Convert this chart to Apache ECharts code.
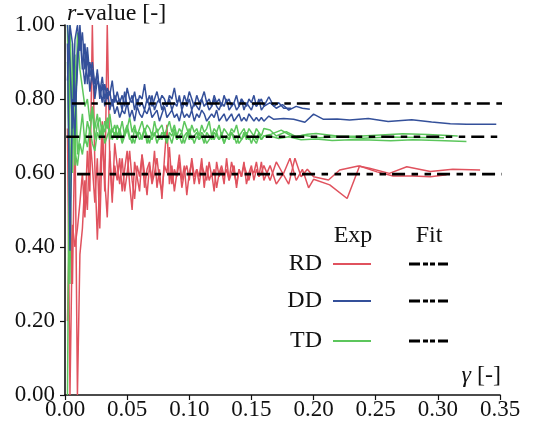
<!DOCTYPE html>
<html>
<head>
<meta charset="utf-8">
<script src="https://cdn.jsdelivr.net/npm/echarts@6/dist/echarts.min.js"></script>
<style>
  html, body { margin: 0; padding: 0; background: #fff; }
  #chart { width: 535px; height: 432px; }
</style>
</head>
<body>
<div id="chart"></div>
<script>
// Shear strain grid shared by the densely sampled part of every run
const gammaFine = [
  0.002, 0.004, 0.006, 0.008, 0.010, 0.012, 0.014, 0.016, 0.018, 0.020,
  0.022, 0.024, 0.026, 0.028, 0.030, 0.032, 0.034, 0.036, 0.038, 0.040,
  0.042, 0.044, 0.046, 0.048, 0.050, 0.052, 0.054, 0.056, 0.058, 0.060,
  0.062, 0.064, 0.066, 0.068, 0.070, 0.072, 0.074, 0.076, 0.078, 0.080,
  0.082, 0.084, 0.086, 0.088, 0.090, 0.092, 0.094, 0.096, 0.098, 0.100,
  0.102, 0.104, 0.106, 0.108, 0.110, 0.112, 0.114, 0.116, 0.118, 0.120,
  0.122, 0.124, 0.126, 0.128, 0.130, 0.132, 0.134, 0.136, 0.138, 0.140,
  0.142, 0.144, 0.146, 0.148, 0.150, 0.152, 0.154, 0.156, 0.158, 0.160
];

// RD runs
const rd1Fine = [
  0.72, 0.00, 0.46, 0.40, 0.45, 0.52, 0.60, 0.48, 0.66, 0.55, 1.00, 0.62, 0.42, 0.58, 0.74, 0.55, 1.00, 0.64, 0.52, 0.68,
  0.62, 0.57, 0.64, 0.55, 0.60, 0.66, 0.58, 0.53, 0.62, 0.59, 0.65, 0.56, 0.61, 0.63, 0.57, 0.60, 0.64, 0.58, 0.55, 0.62,
  0.60, 0.67, 0.57, 0.61, 0.59, 0.63, 0.56, 0.60, 0.62, 0.58, 0.64, 0.59, 0.61, 0.57, 0.62, 0.60, 0.58, 0.63, 0.59, 0.61,
  0.56, 0.60, 0.62, 0.59, 0.61, 0.58, 0.63, 0.60, 0.57, 0.61, 0.59, 0.62, 0.60, 0.58, 0.61, 0.60, 0.63, 0.59, 0.60, 0.62
];
const rd1TailX = [0.165, 0.170, 0.175, 0.180, 0.185, 0.190, 0.195, 0.200, 0.212, 0.221, 0.236, 0.245, 0.261, 0.275, 0.294, 0.312, 0.334];
const rd1TailY = [0.58, 0.63, 0.60, 0.57, 0.64, 0.59, 0.61, 0.590, 0.581, 0.608, 0.619, 0.613, 0.599, 0.617, 0.604, 0.610, 0.608];

const rd2Fine = [
  0.20, 0.55, 0.30, 0.75, 0.00, 0.38, 0.45, 0.58, 0.50, 0.70, 0.62, 0.52, 0.64, 0.45, 0.70, 0.58, 0.48, 0.66, 0.54, 0.62,
  0.58, 0.64, 0.55, 0.61, 0.66, 0.57, 0.50, 0.63, 0.59, 0.55, 0.65, 0.60, 0.54, 0.62, 0.58, 0.66, 0.56, 0.61, 0.53, 0.64,
  0.73, 0.57, 0.62, 0.55, 0.60, 0.65, 0.58, 0.62, 0.54, 0.60, 0.63, 0.57, 0.61, 0.59, 0.64, 0.56, 0.62, 0.58, 0.60, 0.55,
  0.63, 0.59, 0.61, 0.57, 0.64, 0.58, 0.60, 0.62, 0.56, 0.61, 0.59, 0.63, 0.57, 0.60, 0.62, 0.58, 0.61, 0.59, 0.63, 0.58
];
const rd2TailX = [0.165, 0.170, 0.176, 0.181, 0.186, 0.191, 0.196, 0.200, 0.213, 0.227, 0.237, 0.251, 0.264, 0.280, 0.294, 0.307];
const rd2TailY = [0.62, 0.57, 0.60, 0.64, 0.58, 0.61, 0.56, 0.583, 0.568, 0.531, 0.619, 0.603, 0.592, 0.592, 0.590, 0.595];

// DD runs
const dd1Fine = [
  0.95, 0.39, 0.80, 0.70, 0.92, 0.98, 0.88, 0.95, 0.84, 0.90, 0.86, 0.82, 0.88, 0.80, 0.84, 0.78, 0.82, 0.77, 0.80, 0.76,
  0.78, 0.75, 0.77, 0.76, 0.79, 0.75, 0.77, 0.74, 0.78, 0.76, 0.75, 0.77, 0.76, 0.78, 0.75, 0.76, 0.77, 0.74, 0.76, 0.78,
  0.75, 0.76, 0.77, 0.75, 0.76, 0.74, 0.77, 0.75, 0.76, 0.75, 0.77, 0.74, 0.76, 0.75, 0.77, 0.76, 0.74, 0.75, 0.76, 0.75,
  0.77, 0.74, 0.75, 0.76, 0.74, 0.75, 0.76, 0.74, 0.75, 0.76, 0.74, 0.75, 0.74, 0.76, 0.75, 0.74, 0.75, 0.74, 0.75, 0.74
];
const dd1TailX = [0.164, 0.168, 0.176, 0.184, 0.193, 0.200, 0.208, 0.219, 0.229, 0.244, 0.260, 0.279, 0.295, 0.310, 0.323, 0.347];
const dd1TailY = [0.754, 0.745, 0.747, 0.745, 0.737, 0.759, 0.745, 0.746, 0.743, 0.747, 0.739, 0.744, 0.738, 0.733, 0.732, 0.732];

const dd2Fine = [
  1.00, 0.90, 0.72, 0.96, 1.00, 0.93, 0.98, 0.88, 0.94, 0.86, 0.90, 0.84, 0.87, 0.82, 0.86, 0.80, 0.83, 0.81, 0.85, 0.79,
  0.82, 0.79, 0.81, 0.78, 0.83, 0.80, 0.79, 0.82, 0.78, 0.81, 0.80, 0.84, 0.79, 0.81, 0.78, 0.80, 0.82, 0.79, 0.81, 0.80,
  0.78, 0.81, 0.80, 0.83, 0.79, 0.80, 0.78, 0.81, 0.79, 0.82, 0.80, 0.78, 0.81, 0.79, 0.80, 0.82, 0.79, 0.80, 0.78, 0.81,
  0.79, 0.80, 0.78, 0.81, 0.79, 0.80, 0.78, 0.79, 0.81, 0.78, 0.80, 0.79, 0.78, 0.80, 0.79, 0.81, 0.78, 0.79, 0.80, 0.78
];
const dd2TailX = [0.165, 0.170, 0.175, 0.180, 0.186, 0.191, 0.197];
const dd2TailY = [0.790, 0.775, 0.785, 0.770, 0.780, 0.775, 0.772];

const dd3Fine = [
  0.85, 1.00, 0.95, 0.78, 0.88, 1.00, 0.90, 0.84, 0.92, 0.82, 0.88, 0.80, 0.85, 0.83, 0.79, 0.84, 0.80, 0.82, 0.78, 0.81,
  0.79, 0.80, 0.77, 0.82, 0.78, 0.79, 0.81, 0.77, 0.80, 0.78, 0.79, 0.77, 0.80, 0.78, 0.81, 0.77, 0.79, 0.80, 0.77, 0.79,
  0.78, 0.80, 0.77, 0.79, 0.78, 0.81, 0.77, 0.79, 0.78, 0.80, 0.77, 0.79, 0.78, 0.77, 0.80, 0.78, 0.79, 0.77, 0.78, 0.80,
  0.78, 0.77, 0.79, 0.78, 0.80, 0.77, 0.78, 0.79, 0.77, 0.78, 0.80, 0.77, 0.79, 0.78, 0.77, 0.79, 0.78, 0.80, 0.77, 0.78
];
const dd3TailX = [0.164, 0.168, 0.172, 0.176, 0.182];
const dd3TailY = [0.806, 0.780, 0.790, 0.775, 0.775];

// TD runs
const td1Fine = [
  0.00, 1.00, 0.60, 0.92, 0.65, 0.70, 0.76, 0.68, 0.74, 0.71, 0.77, 0.69, 0.73, 0.75, 0.70, 0.74, 0.72, 0.76, 0.71, 0.73,
  0.70, 0.72, 0.69, 0.71, 0.73, 0.70, 0.68, 0.72, 0.70, 0.71, 0.69, 0.72, 0.70, 0.68, 0.71, 0.70, 0.72, 0.69, 0.71, 0.70,
  0.68, 0.71, 0.70, 0.72, 0.69, 0.70, 0.71, 0.68, 0.70, 0.72, 0.69, 0.70, 0.71, 0.69, 0.70, 0.68, 0.71, 0.70, 0.69, 0.71,
  0.70, 0.69, 0.71, 0.68, 0.70, 0.69, 0.71, 0.70, 0.68, 0.70, 0.69, 0.71, 0.69, 0.70, 0.68, 0.70, 0.69, 0.71, 0.69, 0.70
];
const td1TailX = [0.165, 0.172, 0.180, 0.190, 0.202, 0.215, 0.230, 0.245, 0.262, 0.280, 0.300, 0.323];
const td1TailY = [0.700, 0.693, 0.698, 0.690, 0.692, 0.688, 0.690, 0.689, 0.687, 0.690, 0.688, 0.685];

const td2Fine = [
  1.00, 0.30, 0.95, 0.62, 0.98, 0.88, 0.83, 0.78, 0.80, 0.74, 0.78, 0.72, 0.76, 0.70, 0.73, 0.71, 0.75, 0.69, 0.72, 0.70,
  0.73, 0.71, 0.74, 0.70, 0.72, 0.75, 0.71, 0.73, 0.70, 0.72, 0.74, 0.71, 0.73, 0.72, 0.70, 0.74, 0.71, 0.72, 0.73, 0.70,
  0.72, 0.74, 0.71, 0.73, 0.70, 0.72, 0.71, 0.74, 0.72, 0.70, 0.73, 0.71, 0.72, 0.70, 0.73, 0.71, 0.72, 0.74, 0.70, 0.72,
  0.71, 0.73, 0.70, 0.72, 0.71, 0.70, 0.72, 0.71, 0.73, 0.70, 0.71, 0.72, 0.70, 0.72, 0.71, 0.70, 0.72, 0.71, 0.70, 0.72
];
const td2TailX = [0.165, 0.170, 0.178, 0.186, 0.195, 0.202, 0.219, 0.235, 0.254, 0.272, 0.292, 0.316];
const td2TailY = [0.716, 0.700, 0.712, 0.698, 0.705, 0.707, 0.700, 0.699, 0.703, 0.706, 0.704, 0.700];

const td3Fine = [
  0.90, 0.55, 0.85, 0.66, 0.62, 0.68, 0.65, 0.70, 0.67, 0.72, 0.68, 0.66, 0.71, 0.69, 0.73, 0.68, 0.70, 0.72, 0.69, 0.71,
  0.69, 0.71, 0.68, 0.70, 0.72, 0.69, 0.70, 0.68, 0.71, 0.69, 0.70, 0.72, 0.68, 0.70, 0.69, 0.71, 0.68, 0.70, 0.69, 0.71,
  0.69, 0.70, 0.68, 0.71, 0.69, 0.70, 0.68, 0.70, 0.71, 0.69, 0.70, 0.68, 0.70, 0.69, 0.71, 0.70, 0.68, 0.69, 0.70, 0.69,
  0.71, 0.69, 0.70, 0.68, 0.70, 0.69, 0.71, 0.69, 0.70, 0.68, 0.69, 0.70, 0.71, 0.69, 0.70, 0.69, 0.68, 0.70, 0.69, 0.70
];
const td3TailX = [0.166, 0.174, 0.183, 0.192, 0.205, 0.220, 0.240, 0.260, 0.285, 0.305];
const td3TailY = [0.705, 0.716, 0.698, 0.702, 0.695, 0.698, 0.694, 0.697, 0.696, 0.695];

// Fitted plateau values and the strain span each fit line covers
const fitNames = ['RD', 'DD', 'TD'];
const fitValues = [0.597, 0.788, 0.698];
const fitStart = [0.0097, 0.0055, 0.0010];
const fitEnd = 0.3565;

// Axis ticks
const xTicks = [0.00, 0.05, 0.10, 0.15, 0.20, 0.25, 0.30, 0.35];
const yTicks = [0.00, 0.20, 0.40, 0.60, 0.80, 1.00];

const colors = { RD: '#e0525e', DD: '#34509a', TD: '#5cc65c' };
const serif = '"Liberation Serif", "Times New Roman", serif';

function pairs(xs, ys) {
  const out = [];
  for (let i = 0; i < xs.length; i++) out.push([xs[i], ys[i]]);
  return out;
}
function run(fine, tailX, tailY) {
  return pairs(gammaFine, fine).concat(pairs(tailX, tailY));
}

const runs = [
  { name: 'RD', data: run(rd1Fine, rd1TailX, rd1TailY) },
  { name: 'RD', data: run(rd2Fine, rd2TailX, rd2TailY) },
  { name: 'TD', data: run(td1Fine, td1TailX, td1TailY) },
  { name: 'TD', data: run(td2Fine, td2TailX, td2TailY) },
  { name: 'TD', data: run(td3Fine, td3TailX, td3TailY) },
  { name: 'DD', data: run(dd1Fine, dd1TailX, dd1TailY) },
  { name: 'DD', data: run(dd2Fine, dd2TailX, dd2TailY) },
  { name: 'DD', data: run(dd3Fine, dd3TailX, dd3TailY) }
];

const fitDash = [13, 6.5, 6.5, 6.5, 6.5, 6];

const series = runs.map(r => ({
  type: 'line',
  name: r.name,
  data: r.data,
  showSymbol: false,
  symbol: 'none',
  lineStyle: { color: colors[r.name], width: 1.5 },
  z: 2
}));

fitNames.forEach((n, i) => {
  series.push({
    type: 'line',
    name: n + ' fit',
    data: [[fitStart[i], fitValues[i]], [fitEnd, fitValues[i]]],
    showSymbol: false,
    symbol: 'none',
    clip: false,
    lineStyle: { color: '#000', width: 2.6, type: fitDash },
    z: 5
  });
});

// Legend table: row label, experiment stroke, fit stroke
const legendRowsY = [264, 301, 341];
const graphics = [
  { type: 'text', left: 67, top: 2,
    style: { text: '{i|r}-value [-]', font: '24px ' + serif, fill: '#111',
      rich: { i: { fontStyle: 'italic', fontSize: 24, fontFamily: serif } } } },
  { type: 'text', x: 501, y: 376,
    style: { text: '{i|γ} [-]', font: '24px ' + serif, fill: '#111', align: 'right', verticalAlign: 'middle',
      rich: { i: { fontStyle: 'italic', fontSize: 24, fontFamily: serif } } } },
  { type: 'text', x: 353, y: 236,
    style: { text: 'Exp', font: '24px ' + serif, fill: '#111', align: 'center', verticalAlign: 'middle' } },
  { type: 'text', x: 429, y: 236,
    style: { text: 'Fit', font: '24px ' + serif, fill: '#111', align: 'center', verticalAlign: 'middle' } }
];
fitNames.forEach((n, i) => {
  const y = legendRowsY[i];
  graphics.push(
    { type: 'text', x: 322, y: y,
      style: { text: n, font: '24px ' + serif, fill: '#111', align: 'right', verticalAlign: 'middle' } },
    { type: 'line', shape: { x1: 333, y1: y, x2: 371, y2: y },
      style: { stroke: colors[n], lineWidth: 1.8 } },
    { type: 'line', shape: { x1: 409, y1: y, x2: 448, y2: y },
      style: { stroke: '#000', lineWidth: 3, lineDash: [11, 3, 5, 2, 5, 3] } }
  );
});

const chart = echarts.init(document.getElementById('chart'), null, { renderer: 'canvas' });
chart.setOption({
  animation: false,
  backgroundColor: '#fff',
  grid: { left: 65, right: 35, top: 25, bottom: 37, containLabel: false },
  xAxis: {
    type: 'value', min: xTicks[0], max: xTicks[xTicks.length - 1], interval: 0.05,
    axisLine: { show: true, onZero: false, lineStyle: { color: '#111', width: 1.6 } },
    axisTick: { show: true, inside: false, length: 5, lineStyle: { color: '#111', width: 1.2 } },
    axisLabel: { color: '#111', fontFamily: serif, fontSize: 23, margin: 3,
      formatter: v => v.toFixed(2) },
    splitLine: { show: false }
  },
  yAxis: {
    type: 'value', min: yTicks[0], max: yTicks[yTicks.length - 1], interval: 0.2,
    axisLine: { show: true, onZero: false, lineStyle: { color: '#111', width: 1.6 } },
    axisTick: { show: true, inside: false, length: 5, lineStyle: { color: '#111', width: 1.2 } },
    axisLabel: { color: '#111', fontFamily: serif, fontSize: 23, margin: 10,
      formatter: v => v.toFixed(2) },
    splitLine: { show: false }
  },
  series: series,
  graphic: graphics
});
</script>
</body>
</html>
